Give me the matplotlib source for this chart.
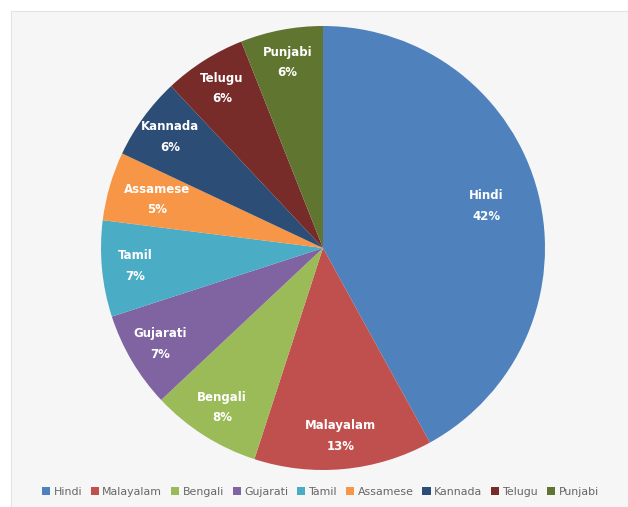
import numpy as np
import matplotlib
matplotlib.use("Agg")
import matplotlib.pyplot as plt
from matplotlib.patches import Rectangle

LANGUAGES = ["Hindi", "Malayalam", "Bengali", "Gujarati", "Tamil",
             "Assamese", "Kannada", "Telugu", "Punjabi"]
SHARES = [42, 13, 8, 7, 7, 5, 6, 6, 6]
COLORS = ["#4F81BD", "#C0504D", "#9BBB59", "#8064A2", "#4BACC6",
          "#F79646", "#2C4D75", "#772C2A", "#5F7530"]

plt.rcParams["font.family"] = ["DejaVu Sans"]

fig = plt.figure(figsize=(6.28, 5.07), dpi=100)
fig.patch.set_facecolor("white")

# light chart-area panel, behind the pie
fig.patches.append(Rectangle((11 / 628, 0.0), 1.0, 1 - 11 / 507, transform=fig.transFigure,
                             facecolor="#f6f6f6", edgecolor="#e4e4e4", linewidth=0.8,
                             zorder=-5))

cx, cy, r = 323 / 628, 1 - 248 / 507, 222
ax = fig.add_axes([cx - r / 628, cy - r / 507, 2 * r / 628, 2 * r / 507])
ax.set_facecolor("none")

wedges, _ = ax.pie(SHARES, colors=COLORS, startangle=90, counterclock=False,
                   radius=1.0, wedgeprops=dict(edgecolor="none"))
ax.set_xlim(-1, 1)
ax.set_ylim(-1, 1)
ax.set_aspect("equal")
ax.axis("off")

for w, name, pct in zip(wedges, LANGUAGES, SHARES):
    mid = np.deg2rad((w.theta1 + w.theta2) / 2)
    d = 0.76 if pct > 30 else (0.78 if pct <= 5 else 0.85)
    ax.text(d * np.cos(mid), d * np.sin(mid), f"{name}\n{pct}%", ha="center", va="center",
            color="white", fontsize=8.5, fontweight="bold", linespacing=1.75)

fig.legend(wedges, LANGUAGES, loc="center", bbox_to_anchor=(0.51, 1 - 492 / 507),
           ncol=9, frameon=False, fontsize=7.9, handlelength=0.75, handleheight=0.75,
           handletextpad=0.3, columnspacing=0.8, labelcolor="#666666")

fig.savefig("out.png", dpi=100, facecolor=fig.get_facecolor())
